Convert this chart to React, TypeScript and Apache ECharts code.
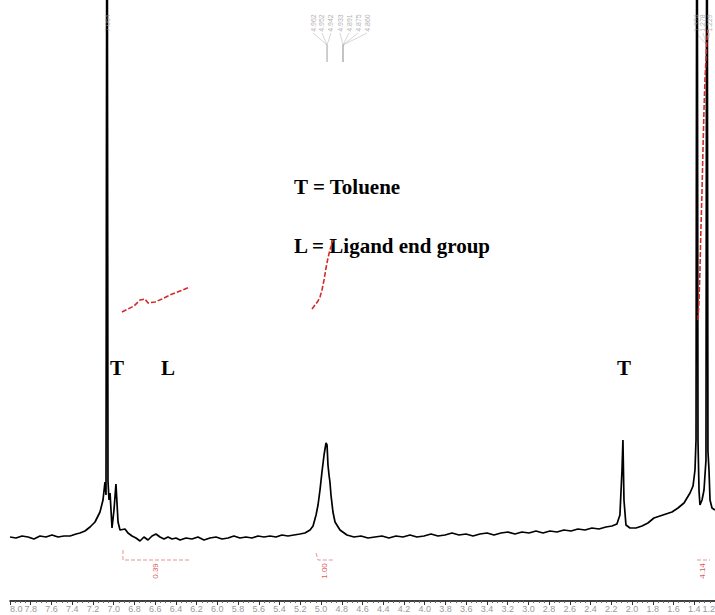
import React, { useEffect, useRef } from "react";
import * as echarts from "echarts";

// Chemical shift (ppm) and intensity
const shiftPpm = [
  8.0, 7.942, 7.884, 7.826, 7.769, 7.711, 7.653, 7.595, 7.537, 7.479, 7.421, 7.363, 7.325, 7.277, 7.228, 7.18,
  7.132, 7.103, 7.084, 7.074, 7.064, 7.055, 7.045, 7.035, 7.016, 6.997, 6.978, 6.958, 6.939, 6.891, 6.862, 6.823,
  6.785, 6.746, 6.708, 6.669, 6.63, 6.592, 6.553, 6.515, 6.476, 6.437, 6.399, 6.36, 6.302, 6.245, 6.187, 6.129,
  6.071, 6.013, 5.955, 5.897, 5.84, 5.782, 5.724, 5.666, 5.608, 5.55, 5.492, 5.434, 5.377, 5.319, 5.261, 5.203,
  5.155, 5.106, 5.077, 5.048, 5.029, 5.01, 4.991, 4.971, 4.952, 4.942, 4.933, 4.923, 4.914, 4.904, 4.885, 4.865,
  4.817, 4.75, 4.682, 4.615, 4.547, 4.48, 4.412, 4.345, 4.277, 4.21, 4.142, 4.075, 4.007, 3.939, 3.872, 3.804,
  3.737, 3.669, 3.602, 3.534, 3.467, 3.399, 3.332, 3.264, 3.197, 3.129, 3.062, 2.994, 2.927, 2.859, 2.792, 2.724,
  2.657, 2.589, 2.522, 2.454, 2.387, 2.319, 2.252, 2.194, 2.146, 2.117, 2.097, 2.088, 2.078, 2.059, 2.02, 1.962,
  1.904, 1.847, 1.789, 1.731, 1.673, 1.615, 1.557, 1.499, 1.441, 1.412, 1.393, 1.383, 1.374, 1.364, 1.354, 1.345,
  1.325, 1.306, 1.287, 1.278, 1.268, 1.258, 1.248, 1.229, 1.2,
];
const intensity = [
  64, 63, 65, 64, 62, 65, 64, 66, 64, 65, 65, 67, 68, 70, 74, 79,
  89, 101, 119, 106, 900, 120, 101, 108, 73, 91, 117, 79, 71, 72, 68, 65,
  63, 60, 64, 61, 65, 67, 64, 62, 64, 62, 63, 61, 63, 62, 64, 61,
  63, 64, 62, 63, 65, 63, 64, 63, 65, 64, 65, 64, 66, 65, 66, 67,
  68, 71, 75, 86, 96, 111, 129, 146, 158, 156, 136, 126, 119, 106, 89, 79,
  71, 66, 64, 65, 63, 64, 65, 63, 65, 64, 66, 64, 65, 67, 65, 66,
  68, 66, 67, 65, 67, 68, 66, 68, 69, 67, 69, 68, 70, 68, 70, 69,
  71, 70, 72, 71, 73, 72, 74, 75, 77, 86, 131, 161, 101, 76, 73, 73,
  75, 78, 83, 85, 87, 89, 93, 98, 108, 115, 131, 161, 900, 160, 110, 96,
  101, 111, 141, 900, 150, 131, 101, 93, 91,
];

// Integral traces (ppm, running integral height)
const integral1Ppm = [6.92, 6.862, 6.804, 6.746, 6.698, 6.669, 6.601, 6.534, 6.457, 6.36, 6.264];
const integral1Val = [289, 292, 295, 301, 302, 298, 299, 302, 306, 310, 314];
const integral2Ppm = [5.087, 5.058, 5.029, 5.01, 4.991, 4.971, 4.952, 4.933, 4.914, 4.894, 4.885];
const integral2Val = [292, 296, 300, 304, 311, 321, 333, 343, 351, 357, 361];
const integral3Ppm = [1.364, 1.354, 1.345, 1.336, 1.325, 1.316, 1.306, 1.297, 1.287, 1.278, 1.268];
const integral3Val = [281, 301, 331, 371, 411, 451, 491, 521, 541, 561, 571];

// Integral values printed under the baseline
const integralLabels = ["0.39", "1.00", "4.14"];
const integralLabelPpm = [6.601, 4.962, 1.316];

// Peak-pick labels at the top
const peakLabels = ["7.064", "4.962", "4.952", "4.942", "4.933", "4.891", "4.875", "4.860", "1.374", "1.278", "1.229"];
const peakLabelPpm = [7.055, 5.077, 4.991, 4.904, 4.817, 4.73, 4.643, 4.556, 1.383, 1.316, 1.25];
const peakTargetPpm = [7.064, 4.942, 4.942, 4.942, 4.788, 4.788, 4.788, 4.788, 1.278, 1.278, 1.278];

const zip = (a: number[], b: number[]) => a.map((v, i) => [v, b[i]]);

export default function App() {
  const ref = useRef<HTMLDivElement>(null);
  useEffect(() => {
    if (!ref.current) return;
    const chart = echarts.init(ref.current, undefined, { renderer: "svg" });
    const red = "#d42a2a";
    const labelTop = 578;
    const leaderLines = peakLabelPpm.map((p, i) => ({
      coords: [
        [p, 568],
        [peakTargetPpm[i], 556],
        [peakTargetPpm[i], 539],
      ],
    }));
    const brackets = [
      { coords: [[6.91, 51], [6.91, 41], [6.264, 41]] },
      { coords: [[5.048, 48], [5.029, 41], [4.875, 41]] },
      { coords: [[1.374, 41], [1.248, 41]] },
    ];
    const intLine = (data: number[][]) => ({
      type: "line",
      data,
      showSymbol: false,
      lineStyle: { color: red, width: 1.6, type: [5, 2] },
      z: 4,
    });
    chart.setOption({
      animation: false,
      backgroundColor: "#ffffff",
      grid: { left: 10, right: 0, top: 0, bottom: 14, outerBoundsMode: "none", containLabel: false },
      xAxis: {
        type: "value",
        min: 1.2,
        max: 8.0,
        inverse: true,
        interval: 0.2,
        axisLine: { lineStyle: { color: "#000", width: 1.5 } },
        axisTick: { length: 4, lineStyle: { color: "#333" } },
        minorTick: { show: true, splitNumber: 4, length: 2, lineStyle: { color: "#666" } },
        axisLabel: {
          fontSize: 9,
          color: "#9a9a9a",
          margin: 3,
          fontFamily: "Liberation Sans",
          alignMinLabel: "right",
          alignMaxLabel: "left",
          formatter: (v: number) => v.toFixed(1),
        },
        splitLine: { show: false },
      },
      yAxis: { type: "value", min: 0, max: 601, show: false },
      series: [
        {
          type: "line",
          data: zip(shiftPpm, intensity),
          showSymbol: false,
          lineStyle: { color: "#000", width: 1.7 },
          z: 3,
        },
        intLine(zip(integral1Ppm, integral1Val)),
        intLine(zip(integral2Ppm, integral2Val)),
        intLine(zip(integral3Ppm, integral3Val)),
        {
          type: "lines",
          coordinateSystem: "cartesian2d",
          polyline: true,
          data: leaderLines,
          lineStyle: { color: "#9a9a9a", width: 0.8 },
          z: 2,
        },
        {
          type: "lines",
          coordinateSystem: "cartesian2d",
          polyline: true,
          data: brackets,
          lineStyle: { color: red, width: 1, type: [4, 2] },
          z: 2,
        },
        {
          type: "scatter",
          symbolSize: 0,
          data: peakLabels.map((t, i) => [peakLabelPpm[i], labelTop, t]),
          label: {
            show: true,
            position: "inside",
            rotate: 90,
            fontSize: 7,
            color: "#9a9a9a",
            fontFamily: "Liberation Sans",
            formatter: (p: any) => p.data[2],
          },
          z: 5,
        },
        {
          type: "scatter",
          symbolSize: 0,
          data: integralLabels.map((t, i) => [integralLabelPpm[i], 30, t]),
          label: {
            show: true,
            position: "inside",
            rotate: 90,
            fontSize: 8,
            color: red,
            fontFamily: "Liberation Sans",
            formatter: (p: any) => p.data[2],
          },
          z: 5,
        },
      ],
      graphic: [
        { type: "text", x: 294, y: 187, style: { text: "T = Toluene", font: "bold 21px 'Liberation Serif'", fill: "#000", verticalAlign: "middle" } },
        { type: "text", x: 294, y: 246, style: { text: "L = Ligand end group", font: "bold 21px 'Liberation Serif'", fill: "#000", verticalAlign: "middle" } },
        { type: "text", x: 110, y: 368, style: { text: "T", font: "bold 21px 'Liberation Serif'", fill: "#000", verticalAlign: "middle" } },
        { type: "text", x: 161, y: 368, style: { text: "L", font: "bold 21px 'Liberation Serif'", fill: "#000", verticalAlign: "middle" } },
        { type: "text", x: 617, y: 368, style: { text: "T", font: "bold 21px 'Liberation Serif'", fill: "#000", verticalAlign: "middle" } },
      ],
    });
    return () => chart.dispose();
  }, []);
  return (
    <div
      ref={ref}
      style={{ position: "fixed", left: 0, top: 0, width: 715, height: 615, background: "#fff" }}
    />
  );
}
